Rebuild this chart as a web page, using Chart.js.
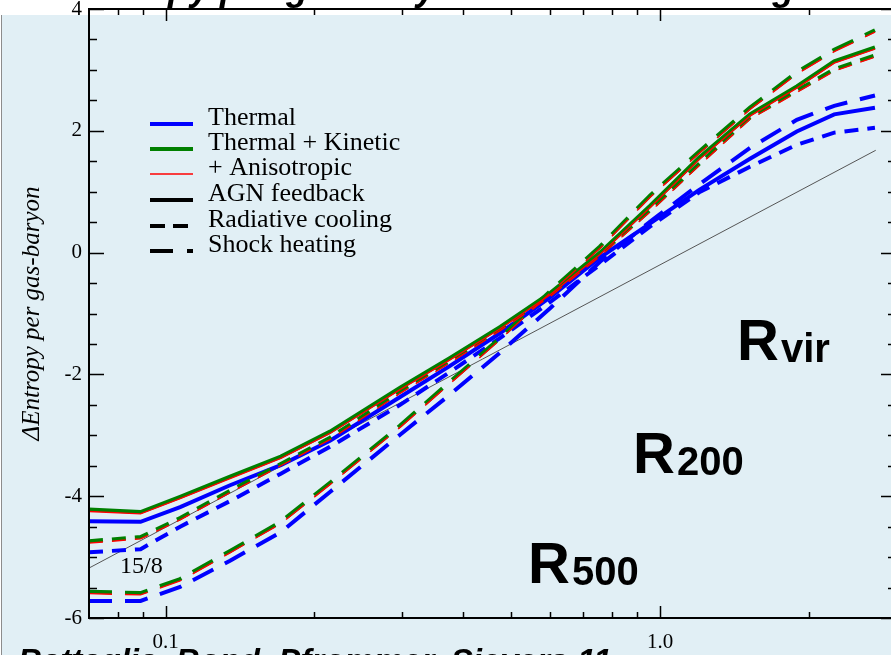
<!DOCTYPE html>
<html>
<head>
<meta charset="utf-8">
<script src="https://cdn.jsdelivr.net/npm/chart.js@4.4.1/dist/chart.umd.min.js"></script>
<style>
  html, body { margin: 0; padding: 0; background: #fff; overflow: hidden; width: 891px; height: 655px; }
  #bg { position: absolute; left: 1px; top: 15px; width: 900px; height: 650px; background: #e1eff5; border-left: 1px solid #8c8c8c; }
  #wrap { position: absolute; left: 0; top: 0; width: 900px; height: 655px; }
</style>
</head>
<body>
<div id="bg"></div>
<div id="wrap"><canvas id="chart" width="900" height="655"></canvas></div>
<script>
// radius in units of R_x (shared by all curves)
var radius = [0.07, 0.089, 0.107, 0.135, 0.171, 0.215, 0.298, 0.376, 0.475, 0.60, 0.756, 0.955, 1.20, 1.52, 1.89, 2.25, 2.72];

// AGN feedback (solid)
var thermalAGN   = [-4.41, -4.42, -4.18, -3.82, -3.49, -3.09, -2.37, -1.86, -1.32, -0.73, -0.08, 0.48, 1.03, 1.54, 1.99, 2.27, 2.38];
var kineticAGN   = [-4.22, -4.26, -4.01, -3.68, -3.35, -2.94, -2.22, -1.73, -1.22, -0.66, 0.00, 0.77, 1.56, 2.27, 2.73, 3.14, 3.37];
var anisoAGN     = [-4.25, -4.29, -4.04, -3.71, -3.38, -2.97, -2.25, -1.76, -1.25, -0.69, -0.03, 0.74, 1.53, 2.24, 2.70, 3.11, 3.34];

// radiative cooling (dashed)
var thermalRad   = [-4.92, -4.87, -4.50, -4.08, -3.63, -3.19, -2.50, -1.96, -1.40, -0.81, -0.20, 0.43, 0.99, 1.41, 1.77, 1.97, 2.05];
var kineticRad   = [-4.74, -4.67, -4.36, -3.91, -3.47, -3.04, -2.28, -1.78, -1.25, -0.69, -0.03, 0.70, 1.46, 2.22, 2.66, 3.01, 3.24];
var anisoRad     = [-4.77, -4.70, -4.39, -3.94, -3.50, -3.07, -2.31, -1.81, -1.28, -0.72, -0.06, 0.67, 1.43, 2.19, 2.63, 2.98, 3.21];

// shock heating (long dashes)
var thermalShock = [-5.72, -5.72, -5.49, -5.06, -4.59, -3.93, -2.99, -2.33, -1.64, -0.91, -0.15, 0.51, 1.12, 1.72, 2.18, 2.41, 2.58];
var kineticShock = [-5.57, -5.59, -5.36, -4.90, -4.42, -3.78, -2.84, -2.12, -1.40, -0.63, 0.10, 0.94, 1.66, 2.38, 2.96, 3.33, 3.65];
var anisoShock   = [-5.60, -5.62, -5.39, -4.93, -4.45, -3.81, -2.87, -2.15, -1.43, -0.66, 0.07, 0.91, 1.63, 2.35, 2.93, 3.30, 3.62];

// 15/8 reference slope
var slopeX = [0.07, 2.73];
var slopeY = [-5.18, 1.68];

// ticks
var xTickValues = [0.08, 0.09, 0.1, 0.2, 0.3, 0.4, 0.5, 0.6, 0.7, 0.8, 0.9, 1, 2, 3];
var xMajorTicks = [0.1, 1];
var xLabelValues = [0.1, 1];
var xLabelTexts = ['0.1', '1.0'];
var yTickValues = [-6, -5.5, -5, -4.5, -4, -3.5, -3, -2.5, -2, -1.5, -1, -0.5, 0, 0.5, 1, 1.5, 2, 2.5, 3, 3.5, 4];
var yMajorTicks = [-6, -4, -2, 0, 2, 4];

var legendLabels = ['Thermal', 'Thermal + Kinetic', '+ Anisotropic', 'AGN feedback', 'Radiative cooling', 'Shock heating'];

var BLUE = '#0000ff', GREEN = '#008000', RED = '#ff0000';
var RAD_DASH = [14, 9], SHOCK_DASH = [23, 13];

function pts(ys, xs) {
  xs = xs || radius;
  return ys.map(function(v, i) { return {x: xs[i], y: v}; });
}

function line(data, color, width, dash, order) {
  return {
    data: pts(data),
    borderColor: color,
    borderWidth: width,
    borderDash: dash,
    pointRadius: 0,
    tension: 0,
    fill: false,
    order: order
  };
}

var datasets = [
  line(anisoAGN, RED, 1.4, [], 0),
  line(anisoRad, RED, 1.4, RAD_DASH, 0),
  line(anisoShock, RED, 1.4, SHOCK_DASH, 0),
  line(kineticAGN, GREEN, 4, [], 1),
  line(kineticRad, GREEN, 4, RAD_DASH, 1),
  line(kineticShock, GREEN, 4, SHOCK_DASH, 1),
  line(thermalAGN, BLUE, 4, [], 2),
  line(thermalRad, BLUE, 4, RAD_DASH, 2),
  line(thermalShock, BLUE, 4, SHOCK_DASH, 2),
  {
    data: pts(slopeY, slopeX),
    borderColor: '#555555',
    borderWidth: 1,
    pointRadius: 0,
    order: 3
  }
];

function noPad(scale) {
  scale.paddingTop = 0;
  scale.paddingBottom = 0;
  scale.paddingLeft = 0;
  scale.paddingRight = 0;
}

var decor = {
  id: 'decor',
  afterDraw: function(chart) {
    var ctx = chart.ctx;
    var a = chart.chartArea;
    var xs = chart.scales.x, ys = chart.scales.y;
    ctx.save();

    // frame
    ctx.strokeStyle = '#000';
    ctx.lineWidth = 2;
    ctx.setLineDash([]);
    ctx.strokeRect(a.left, a.top, a.right - a.left, a.bottom - a.top);

    // inward ticks
    ctx.lineWidth = 1.5;
    ctx.beginPath();
    xTickValues.forEach(function(v) {
      var px = Math.round(xs.getPixelForValue(v)) + 0.5;
      var len = xMajorTicks.indexOf(v) >= 0 ? 12 : 6;
      ctx.moveTo(px, a.bottom); ctx.lineTo(px, a.bottom - len);
      ctx.moveTo(px, a.top); ctx.lineTo(px, a.top + len);
    });
    yTickValues.forEach(function(v) {
      var py = Math.round(ys.getPixelForValue(v)) + 0.5;
      var len = yMajorTicks.indexOf(v) >= 0 ? 15 : 8;
      ctx.moveTo(a.left, py); ctx.lineTo(a.left + len, py);
      ctx.moveTo(a.right, py); ctx.lineTo(a.right - len, py);
    });
    ctx.stroke();

    // legend
    var lx0 = 150, lx1 = 193, tx = 208;
    var rows = [125, 150, 175, 201, 227, 252];
    var styles = [
      {c: BLUE, w: 4, d: []},
      {c: GREEN, w: 4, d: []},
      {c: RED, w: 1.4, d: []},
      {c: '#000', w: 4, d: []},
      {c: '#000', w: 4, d: [15, 8]},
      {c: '#000', w: 4, d: [23, 14]}
    ];
    ctx.font = '26px "Liberation Serif", "Times New Roman", serif';
    ctx.textBaseline = 'alphabetic';
    ctx.textAlign = 'left';
    legendLabels.forEach(function(lbl, i) {
      var s = styles[i];
      ctx.strokeStyle = s.c;
      ctx.lineWidth = s.w;
      ctx.setLineDash(s.d);
      ctx.beginPath();
      ctx.moveTo(lx0, rows[i] - 1);
      ctx.lineTo(lx1, rows[i] - 1);
      ctx.stroke();
      ctx.setLineDash([]);
      ctx.fillStyle = '#000';
      ctx.fillText(lbl, tx, rows[i]);
    });

    // slope label
    ctx.font = '24px "Liberation Serif", "Times New Roman", serif';
    ctx.fillText('15/8', 120, 573);

    // radius labels
    function rlabel(sub, x, y) {
      ctx.font = 'bold 58px "Liberation Sans", Arial, sans-serif';
      ctx.fillText('R', x, y);
      var w = ctx.measureText('R').width;
      ctx.font = 'bold 40px "Liberation Sans", Arial, sans-serif';
      ctx.fillText(sub, x + w + 2, y + 2);
    }
    rlabel('vir', 737, 360);
    rlabel('200', 633, 473);
    rlabel('500', 528, 583);

    // clipped title and credit line
    ctx.font = 'italic bold 36px "Liberation Sans", Arial, sans-serif';
    ctx.fillText('Entropy per gas-baryon relative to scaling', 74, 0);
    ctx.font = 'italic bold 33px "Liberation Sans", Arial, sans-serif';
    ctx.fillText('Battaglia, Bond, Pfrommer, Sievers 11', 18, 672);

    ctx.restore();
  }
};

new Chart(document.getElementById('chart').getContext('2d'), {
  type: 'line',
  data: { datasets: datasets },
  options: {
    responsive: false,
    animation: false,
    layout: { padding: { top: 9, right: 4, bottom: 0, left: 0 } },
    plugins: { legend: { display: false }, tooltip: { enabled: false } },
    scales: {
      x: {
        type: 'logarithmic',
        min: 0.07,
        max: 3,
        grid: { display: false, drawTicks: false },
        border: { display: false },
        afterBuildTicks: function(scale) {
          scale.ticks = xTickValues.map(function(v) { return {value: v}; });
        },
        afterFit: function(scale) { scale.height = 37; noPad(scale); },
        ticks: {
          autoSkip: false,
          maxRotation: 0,
          padding: 12,
          color: '#000',
          font: { family: '"Liberation Serif", "Times New Roman", serif', size: 21 },
          callback: function(value) {
            var i = xLabelValues.indexOf(value);
            return i >= 0 ? xLabelTexts[i] : '';
          }
        }
      },
      y: {
        min: -6,
        max: 4,
        grid: { display: false, drawTicks: false },
        border: { display: false },
        afterFit: function(scale) { scale.width = 89; noPad(scale); },
        ticks: {
          stepSize: 2,
          padding: 7,
          color: '#000',
          font: { family: '"Liberation Serif", "Times New Roman", serif', size: 21 },
          callback: function(value) { return String(value); }
        },
        title: {
          display: true,
          text: 'ΔEntropy per gas-baryon',
          color: '#000',
          padding: { top: 17, bottom: 0 },
          font: { family: '"Liberation Serif", "Times New Roman", serif', size: 25, style: 'italic' }
        }
      }
    }
  },
  plugins: [decor]
});
</script>
</body>
</html>
